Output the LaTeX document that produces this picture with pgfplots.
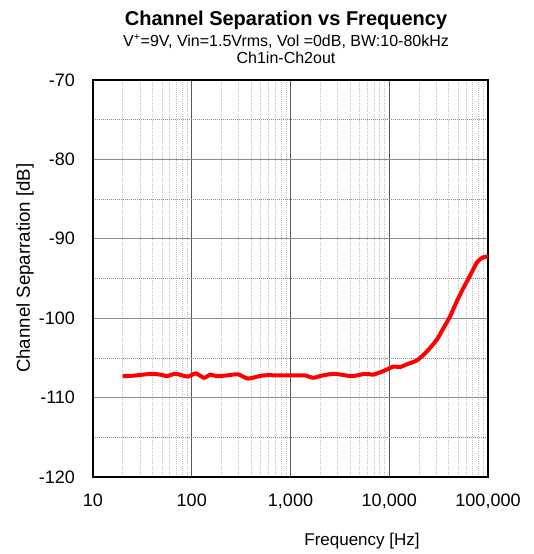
\documentclass[border=0pt]{standalone}
\usepackage{pgfplots}
\pgfplotsset{compat=1.18}
\usepackage{fontspec}
\setmainfont{Liberation Sans}

\begin{document}
\begin{tikzpicture}
\begin{axis}[
  scale only axis,
  width=296.25pt, height=297.75pt,
  xmode=log,
  xmin=10, xmax=100000,
  ymin=-120, ymax=-70,
  xtick={10,100,1000,10000,100000},
  xticklabels={10,100,{1,000},{10,000},{100,000}},
  ytick={-120,-110,-100,-90,-80,-70},
  yticklabels={-120,-110,-100,-90,-80,-70},
  minor ytick={-115,-105,-95,-85,-75},
  major tick length=0pt, minor tick length=0pt,
  grid=both,
  major x grid style={black!65, line width=0.6pt},
  minor x grid style={black!25, line width=0.6pt, densely dotted},
  major y grid style={black!45, line width=0.8pt},
  minor y grid style={black!45, line width=0.5pt, densely dotted},
  axis line style={black, line width=1.5pt},
  tick label style={font=\fontsize{13.5pt}{15pt}\selectfont},
  yticklabel style={xshift=-10pt},
  xticklabel style={yshift=-9pt},
  xlabel={Frequency [Hz]},
  ylabel={Channel Separration [dB]},
  xlabel style={font=\fontsize{12.75pt}{14pt}\selectfont, at={(axis description cs:0.681,-0.161)}, anchor=center},
  ylabel style={font=\fontsize{14pt}{15pt}\selectfont, at={(axis description cs:-0.172,0.526)}, anchor=center},
  clip=false,
]
\addplot[red, line width=3pt, smooth, tension=0.4] coordinates {
  (20,-107.3) (25,-107.25) (30,-107.15) (40,-107.0) (50,-107.15)
  (56,-107.3) (68,-107.0) (80,-107.2) (92,-107.35) (110,-106.95)
  (133,-107.5) (155,-107.1) (178,-107.3) (230,-107.2) (294,-107.06)
  (372,-107.6) (530,-107.2) (780,-107.2) (1150,-107.2) (1400,-107.2)
  (1700,-107.5) (2140,-107.2) (2800,-107.0) (4160,-107.3) (5680,-107.0)
  (6900,-107.1) (8740,-106.65) (11000,-106.1) (12900,-106.15) (15100,-105.8)
  (19100,-105.3) (24000,-104.2) (30300,-102.7) (35200,-101.3) (41200,-99.8)
  (48200,-97.9) (56300,-96.2) (66000,-94.6) (77000,-93.0) (87000,-92.4)
  (100000,-92.2)
};
\node[font=\bfseries\fontsize{15pt}{17pt}\selectfont] at (rel axis cs:0.4886,1.151) {Channel Separation vs Frequency};
\node[font=\fontsize{12pt}{14pt}\selectfont] at (rel axis cs:0.4886,1.098) {V\textsuperscript{+}=9V, Vin=1.5Vrms, Vol =0dB, BW:10-80kHz};
\node[font=\fontsize{12pt}{14pt}\selectfont] at (rel axis cs:0.4886,1.057) {Ch1in-Ch2out};
\end{axis}
\pgfresetboundingbox
\path (current axis.south west) ++(-69.75pt,-57.75pt) rectangle ++(399.75pt,415.5pt);
\end{tikzpicture}
\end{document}
